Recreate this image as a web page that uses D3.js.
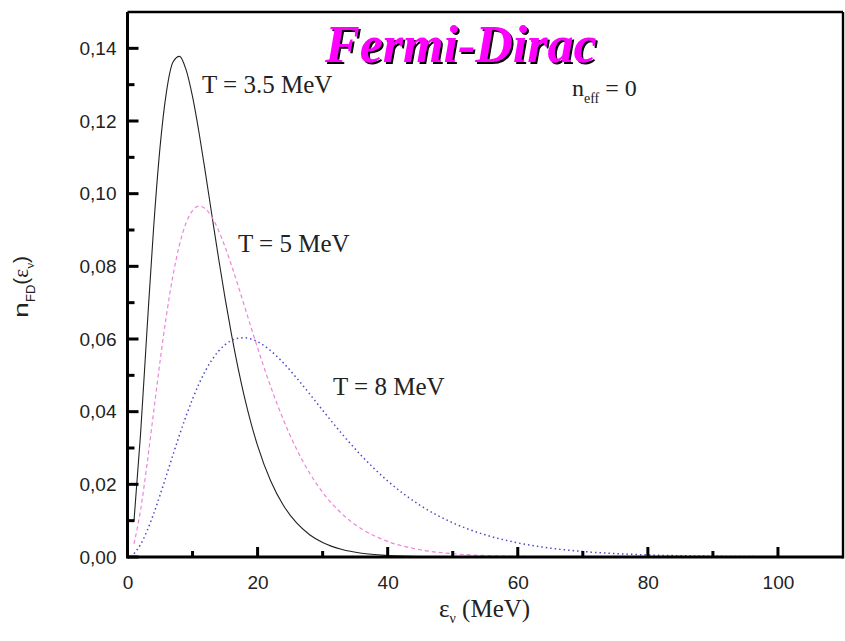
<!DOCTYPE html>
<html>
<head>
<meta charset="utf-8">
<script src="https://cdn.jsdelivr.net/npm/d3@7/dist/d3.min.js"></script>
<style>
  html, body { margin: 0; padding: 0; background: #fff; }
  svg { display: block; }
</style>
</head>
<body>
<svg id="chart" width="845" height="641"></svg>
<script>
// Neutrino energy grid (MeV)
const energy = [1, 2, 3, 4, 5, 6, 7, 8, 9, 10, 11, 12, 13, 14, 15, 16, 17, 18, 19, 20,
                22, 24, 26, 28, 30, 33, 36, 40, 45, 50, 55, 60, 65, 70, 80, 90, 100];

// Occupation spectra n_FD(eps) for three temperatures
const nT35 = [0.01001, 0.03367, 0.06254, 0.09023, 0.11273, 0.12814, 0.13623, 0.13780, 0.13413, 0.12668,
              0.11676, 0.10552, 0.09378, 0.08222, 0.07124, 0.06112, 0.05201, 0.04388, 0.03680, 0.03067,
              0.02099, 0.01412, 0.00936, 0.00613, 0.00398, 0.00204, 0.00103, 0.00041, 0.00012, 0.00004,
              0.00001, 0.0, 0.0, 0.0, 0.0, 0.0, 0.0];
const nT5  = [0.00360, 0.01284, 0.02551, 0.03968, 0.05379, 0.06667, 0.07754, 0.08601, 0.09192, 0.09536,
              0.09656, 0.09582, 0.09347, 0.08988, 0.08536, 0.08022, 0.07468, 0.06894, 0.06319, 0.05755,
              0.04696, 0.03762, 0.02966, 0.02311, 0.01780, 0.01184, 0.00774, 0.00429, 0.00200, 0.00091,
              0.00040, 0.00018, 0.00008, 0.00003, 0.00001, 0.0, 0.0];
const nT8  = [0.00092, 0.00342, 0.00716, 0.01180, 0.01702, 0.02256, 0.02816, 0.03362, 0.03877, 0.04350,
              0.04769, 0.05131, 0.05430, 0.05667, 0.05843, 0.05960, 0.06022, 0.06034, 0.06000, 0.05926,
              0.05680, 0.05335, 0.04928, 0.04489, 0.04039, 0.03383, 0.02781, 0.02092, 0.01421, 0.00941,
              0.00610, 0.00389, 0.00244, 0.00152, 0.00057, 0.00021, 0.00007];

const xTicksMajor = [0, 20, 40, 60, 80, 100];
const xTicksMinor = [10, 30, 50, 70, 90];
const yTicksMajor = [0, 0.02, 0.04, 0.06, 0.08, 0.10, 0.12, 0.14];
const yTicksMinor = [0.01, 0.03, 0.05, 0.07, 0.09, 0.11, 0.13];

const series = [
  { name: "T35", values: nT35, color: "#222222", width: 1.1, dash: null },
  { name: "T5",  values: nT5,  color: "#ee84da", width: 1.2, dash: "4,3" },
  { name: "T8",  values: nT8,  color: "#4c4cc8", width: 1.5, dash: "1.5,3" }
];

const svg = d3.select("#chart");
const W = 845, H = 641;
const margin = { left: 127.5, right: 2, top: 12, bottom: 84 };
const x = d3.scaleLinear().domain([0, 110]).range([margin.left, W - margin.right]);
const y = d3.scaleLinear().domain([0, 0.15]).range([H - margin.bottom, margin.top]);

const fmt = d => d3.format(".2f")(d).replace(".", ",");
const serif = "'Liberation Serif', 'Times New Roman', serif";
const sans = "'Liberation Sans', Arial, sans-serif";

// title shadow filter
const defs = svg.append("defs");
const f = defs.append("filter").attr("id", "shadow")
  .attr("x", "-5%").attr("y", "-20%").attr("width", "115%").attr("height", "150%");
f.append("feDropShadow").attr("dx", 2).attr("dy", 2).attr("stdDeviation", 0.6)
  .attr("flood-color", "#000").attr("flood-opacity", 1);

defs.append("clipPath").attr("id", "clip")
  .append("rect")
  .attr("x", x(0)).attr("y", y(0.15))
  .attr("width", x(110) - x(0)).attr("height", y(0) - y(0.15));

// curves
const line = d3.line()
  .x((d, i) => x(energy[i]))
  .y(d => y(d))
  .curve(d3.curveMonotoneX);

const plot = svg.append("g").attr("clip-path", "url(#clip)");
series.forEach(s => {
  plot.append("path")
    .datum(s.values)
    .attr("fill", "none")
    .attr("stroke", s.color)
    .attr("stroke-width", s.width)
    .attr("stroke-dasharray", s.dash)
    .attr("d", line);
});

// tick labels from d3 axes
const xAxis = d3.axisBottom(x).tickValues(xTicksMajor).tickSize(0).tickPadding(19).tickFormat(d3.format("d"));
const yAxis = d3.axisLeft(y).tickValues(yTicksMajor).tickSize(0).tickPadding(11).tickFormat(fmt);

function styleAxis(g) {
  g.select(".domain").remove();
  g.selectAll(".tick line").remove();
  g.selectAll(".tick text")
    .attr("fill", "#222")
    .style("font-family", sans)
    .style("font-size", "19px");
}
svg.append("g").attr("transform", `translate(0,${y(0)})`).call(xAxis).call(styleAxis);
svg.append("g").attr("transform", `translate(${x(0)},0)`).call(yAxis).call(styleAxis);

// inward tick marks
const tickG = svg.append("g").attr("stroke", "#000").attr("stroke-width", 3);
tickG.selectAll("line.xmaj").data(xTicksMajor).enter().append("line")
  .attr("x1", d => x(d)).attr("x2", d => x(d)).attr("y1", y(0)).attr("y2", y(0) - 10);
tickG.selectAll("line.xmin").data(xTicksMinor).enter().append("line")
  .attr("x1", d => x(d)).attr("x2", d => x(d)).attr("y1", y(0)).attr("y2", y(0) - 6);
tickG.selectAll("line.ymaj").data(yTicksMajor).enter().append("line")
  .attr("x1", x(0)).attr("x2", x(0) + 11).attr("y1", d => y(d)).attr("y2", d => y(d));
tickG.selectAll("line.ymin").data(yTicksMinor).enter().append("line")
  .attr("x1", x(0)).attr("x2", x(0) + 7).attr("y1", d => y(d)).attr("y2", d => y(d));

// frame
svg.append("line").attr("x1", x(0)).attr("x2", x(110)).attr("y1", y(0)).attr("y2", y(0))
  .attr("stroke", "#000").attr("stroke-width", 3);
svg.append("line").attr("x1", x(0)).attr("x2", x(0)).attr("y1", y(0) + 1.5).attr("y2", y(0.15))
  .attr("stroke", "#000").attr("stroke-width", 3);
svg.append("line").attr("x1", x(0)).attr("x2", x(110)).attr("y1", y(0.15)).attr("y2", y(0.15))
  .attr("stroke", "#000").attr("stroke-width", 2.4);
svg.append("line").attr("x1", x(110)).attr("x2", x(110)).attr("y1", y(0.15)).attr("y2", y(0) + 1.5)
  .attr("stroke", "#000").attr("stroke-width", 2.4);

// axis titles
const xt = svg.append("text")
  .attr("x", 439).attr("y", 617)
  .style("font-family", serif).style("font-size", "25px").attr("fill", "#222");
xt.append("tspan").text("ε");
xt.append("tspan").attr("dy", 6).style("font-size", "14px").text("ν");
xt.append("tspan").attr("dy", -6).text(" (MeV)");

const yt = svg.append("text")
  .attr("transform", "translate(28,318) rotate(-90)")
  .style("font-family", sans).style("font-size", "21px").attr("fill", "#222");
yt.append("tspan").attr("textLength", 16).attr("lengthAdjust", "spacingAndGlyphs").text("n");
yt.append("tspan").attr("dy", 7).style("font-size", "13px").text("FD");
yt.append("tspan").attr("dy", -7).text("(");
yt.append("tspan").style("font-family", serif).text("ε");
yt.append("tspan").attr("dy", 6).style("font-family", serif).style("font-size", "13px").text("ν");
yt.append("tspan").attr("dy", -6).text(")");

// curve annotations
const notes = [
  { text: "T = 3.5 MeV", x: 202, y: 93 },
  { text: "T = 5 MeV", x: 238, y: 252 },
  { text: "T = 8 MeV", x: 333, y: 395 }
];
svg.selectAll("text.note").data(notes).enter().append("text")
  .attr("class", "note")
  .attr("x", d => d.x).attr("y", d => d.y)
  .style("font-family", serif).style("font-size", "25px").attr("fill", "#222")
  .text(d => d.text);

const ne = svg.append("text").attr("x", 572).attr("y", 96)
  .style("font-family", serif).style("font-size", "24px").attr("fill", "#222");
ne.append("tspan").text("n");
ne.append("tspan").attr("dy", 7).style("font-size", "14px").text("eff");
ne.append("tspan").attr("dy", -7).text(" = 0");

// title
svg.append("text").attr("x", 325).attr("y", 62)
  .style("font-family", serif).style("font-size", "52px")
  .style("font-weight", "bold").style("font-style", "italic")
  .attr("fill", "#ff00ff").attr("filter", "url(#shadow)")
  .text("Fermi-Dirac");
</script>
</body>
</html>
